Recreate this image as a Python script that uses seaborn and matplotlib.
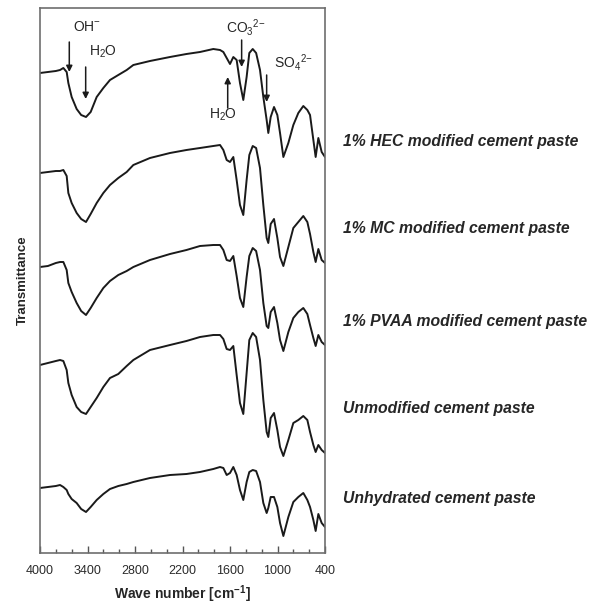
import pandas as pd
import matplotlib
matplotlib.use("Agg")
import matplotlib.pyplot as plt
from matplotlib.ticker import FixedLocator, MultipleLocator
import seaborn as sns

# wavenumber grid (cm-1)
wavenumber = [4000, 3900, 3800, 3747, 3705, 3663, 3642, 3600, 3537, 3480,
              3419, 3360, 3284, 3200, 3116, 3011, 2905, 2821, 2611, 2358,
              2150, 1979, 1811, 1726, 1684, 1642, 1600, 1558, 1516, 1474,
              1432, 1390, 1356, 1313, 1270, 1221, 1179, 1137, 1116, 1086,
              1044, 1002, 968, 926, 863, 800, 737, 674, 623, 589,
              547, 518, 484, 442, 400]

# transmittance (arbitrary units, curves already stacked)
hec = [480, 481, 482, 483, 485, 481, 470, 456, 444, 438,
       436, 441, 456, 465, 473, 478, 483, 488, 492, 496,
       499, 501, 504, 503, 501, 495, 489, 496, 493, 470,
       453, 476, 500, 504, 500, 483, 456, 433, 420, 436,
       446, 438, 420, 396, 410, 428, 440, 447, 443, 438,
       413, 396, 415, 401, 396]
mc = [380, 381, 382, 382, 383, 377, 360, 350, 340, 334,
      331, 339, 350, 360, 368, 375, 381, 388, 395, 400,
      403, 405, 407, 408, 403, 393, 391, 396, 373, 348,
      338, 373, 398, 407, 405, 385, 348, 315, 310, 329,
      334, 315, 296, 287, 306, 325, 331, 337, 331, 319,
      301, 291, 304, 293, 290]
pvaa = [286, 287, 290, 291, 291, 283, 270, 261, 250, 242,
        238, 245, 255, 265, 272, 278, 282, 286, 293, 299,
        303, 307, 308, 308, 303, 293, 292, 297, 277, 255,
        246, 276, 297, 305, 302, 283, 250, 227, 225, 241,
        246, 230, 213, 202, 221, 235, 241, 245, 239, 228,
        215, 207, 218, 211, 208]
unmodified = [188, 190, 192, 193, 192, 183, 170, 158, 146, 141,
              139, 146, 155, 166, 175, 179, 187, 193, 203, 208,
              212, 216, 218, 218, 214, 204, 203, 207, 178, 150,
              139, 180, 213, 220, 216, 193, 153, 121, 116, 135,
              140, 123, 106, 97, 113, 130, 133, 137, 133, 121,
              108, 101, 108, 103, 100]
unhydrated = [65, 66, 67, 68, 66, 63, 59, 54, 50, 44,
              41, 46, 53, 59, 64, 67, 69, 71, 75, 78,
              79, 81, 84, 86, 85, 78, 80, 86, 78, 63,
              53, 71, 81, 83, 82, 71, 50, 40, 45, 56,
              56, 46, 30, 17, 36, 51, 56, 60, 53, 46,
              33, 22, 39, 30, 26]

sample_names = ["1% HEC modified cement paste", "1% MC modified cement paste",
                "1% PVAA modified cement paste", "Unmodified cement paste",
                "Unhydrated cement paste"]
label_y_px = [141.7, 228.3, 321.7, 408.3, 498.3]

x_ticks = [4000, 3400, 2800, 2200, 1600, 1000, 400]

series = [hec, mc, pvaa, unmodified, unhydrated]
frames = []
for name, vals in zip(sample_names, series):
    frames.append(pd.DataFrame({"wn": wavenumber, "T": vals, "sample": name}))
df = pd.concat(frames, ignore_index=True)

sns.set_theme(style="ticks")
plt.rcParams["font.family"] = ["Liberation Sans", "DejaVu Sans"]
plt.rcParams["mathtext.default"] = "regular"

W, H = 593, 604
fig = plt.figure(figsize=(W / 100, H / 100), dpi=100)
ax = fig.add_axes([40 / W, 51 / H, 285 / W, 545 / H])

sns.lineplot(data=df, x="wn", y="T", hue="sample", units="sample", estimator=None,
             palette=["#1a1a1a"] * 5, linewidth=1.4, legend=False, ax=ax)

ax.set_xlim(4000, 400)
ax.set_ylim(0, 545)
ax.xaxis.set_major_locator(FixedLocator(x_ticks))
ax.xaxis.set_minor_locator(MultipleLocator(200))
ax.set_yticks([])
ax.tick_params(axis="x", which="major", direction="in", length=5, width=1,
               color="#555555", labelsize=9, labelcolor="#2a2a2a", pad=9)
ax.tick_params(axis="x", which="minor", direction="in", length=3, width=1, color="#555555")
for sp in ax.spines.values():
    sp.set_visible(True)
    sp.set_color("#6e6e6e")
    sp.set_linewidth(1.2)

ax.set_xlabel("Wave number [cm$^{-1}$]", fontsize=10, fontweight="bold", labelpad=4)
ax.set_ylabel("Transmittance", fontsize=9.5, fontweight="bold", labelpad=8)

# peak assignments
arrow = dict(arrowstyle="-|>", color="#1a1a1a", lw=1.1, mutation_scale=9, shrinkA=0, shrinkB=0)
ax.annotate("", xy=(3630, 481), xytext=(3630, 511), arrowprops=arrow)
ax.annotate("", xy=(3423, 454), xytext=(3423, 486), arrowprops=arrow)
ax.annotate("", xy=(1453, 486), xytext=(1453, 513), arrowprops=arrow)
ax.annotate("", xy=(1137, 451), xytext=(1137, 478), arrowprops=arrow)
ax.annotate("", xy=(1629, 476), xytext=(1629, 445), arrowprops=arrow)
ax.text(3400, 526, "OH$^{-}$", fontsize=10, ha="center", va="center")
ax.text(3204, 501, "H$_2$O", fontsize=10, ha="center", va="center")
ax.text(1400, 526, "CO$_3{}^{2{-}}$", fontsize=10, ha="center", va="center")
ax.text(800, 491, "SO$_4{}^{2{-}}$", fontsize=10, ha="center", va="center")
ax.text(1688, 438, "H$_2$O", fontsize=10, ha="center", va="center")

for name, ypx in zip(sample_names, label_y_px):
    fig.text(343 / W, 1 - ypx / H, name, fontsize=11.3, fontweight="bold",
             fontstyle="italic", ha="left", va="center")

fig.savefig("out.png", dpi=100)
